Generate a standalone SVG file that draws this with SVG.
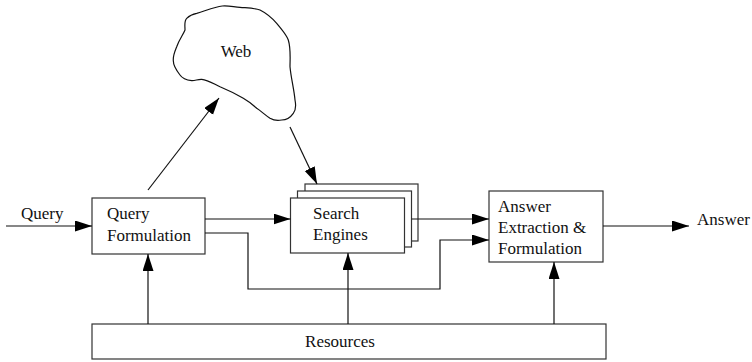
<svg xmlns="http://www.w3.org/2000/svg" width="752" height="362" viewBox="0 0 752 362">
  <style>
    .box { fill: #fff; stroke: #333; stroke-width: 1.2; }
    .line { fill: none; stroke: #111; stroke-width: 1.2; }
    text { font-family: 'Liberation Serif', 'Times New Roman', Times, serif; font-size: 17px; fill: #111; }
  </style>
  <defs>
    <marker id="arrow" markerUnits="userSpaceOnUse" markerWidth="18" markerHeight="12" refX="17" refY="5.5" orient="auto">
      <path d="M0,0 L17,5.5 L0,11 z" fill="#000"/>
    </marker>
  </defs>

  <rect x="0" y="0" width="752" height="362" fill="#fff"/>

  <!-- Web cloud -->
  <g id="web">
    <path class="line" d="M186.7,18.3 C190,15 193,14 196.7,13.3 C205,11 214,7 222.3,6 C229,5.5 234,7 240,7.3 C248,8 254,8 260,10 C266,13 272,18 276.7,23.3 C281,29 286,34 288.3,40 C291,49 290,58 290,66.7 C291,78 294,89 295,100 C296,105 296,110 293.3,113.3 C290,118 286,120 281.7,120 C277,121 273,120 270,118.3 C265,115 261,111 256.7,108.3 C252,104 248,101 243.3,98.3 C236,94 228,90 220,86.7 C214,84 208,80 201.7,79.3 C198,79 195,81 191.7,80.7 C186,80 182,78 180,75 C176,70 173,65 173.3,60 C173,55 175,51 176.7,46.7 C179,40 183,35 185,30 C185,25 184,21 186.7,18.3 Z"/>
    <text x="236" y="57" text-anchor="middle">Web</text>
  </g>

  <!-- Query Formulation -->
  <g id="query-formulation">
    <rect class="box" x="92" y="198" width="113" height="56"/>
    <text x="107" y="219">Query</text>
    <text x="107" y="241">Formulation</text>
  </g>

  <!-- Search Engines (stacked) -->
  <g id="search-engines">
    <rect class="box" x="305" y="184" width="113" height="57"/>
    <rect class="box" x="297.5" y="191" width="114" height="56"/>
    <rect class="box" x="290.5" y="198" width="114" height="55"/>
    <text x="313" y="219">Search</text>
    <text x="313" y="240">Engines</text>
  </g>

  <!-- Answer Extraction & Formulation -->
  <g id="answer-extraction">
    <rect class="box" x="489" y="191" width="114" height="71"/>
    <text x="498" y="212">Answer</text>
    <text x="498" y="233">Extraction &amp;</text>
    <text x="498" y="254">Formulation</text>
  </g>

  <!-- Resources -->
  <g id="resources">
    <rect class="box" x="92" y="324" width="514" height="35"/>
    <text x="340" y="347" text-anchor="middle">Resources</text>
  </g>

  <!-- External labels -->
  <g id="query-in">
    <text x="21" y="219">Query</text>
  </g>
  <g id="answer-out">
    <text x="697" y="225">Answer</text>
  </g>

  <!-- Connectors -->
  <g id="connectors">
    <line class="line" x1="6" y1="226" x2="92" y2="226" marker-end="url(#arrow)"/>
    <line class="line" x1="148" y1="190" x2="219" y2="98" marker-end="url(#arrow)"/>
    <line class="line" x1="290" y1="127" x2="317" y2="184" marker-end="url(#arrow)"/>
    <line class="line" x1="205" y1="219" x2="290.5" y2="219" marker-end="url(#arrow)"/>
    <line class="line" x1="411.5" y1="219" x2="489" y2="219" marker-end="url(#arrow)"/>
    <polyline class="line" points="205,233 248,233 248,289 440,289 440,240 489,240" marker-end="url(#arrow)"/>
    <line class="line" x1="603" y1="226" x2="689" y2="226" marker-end="url(#arrow)"/>
    <line class="line" x1="148" y1="324" x2="148" y2="254" marker-end="url(#arrow)"/>
    <line class="line" x1="348" y1="324" x2="348" y2="253" marker-end="url(#arrow)"/>
    <line class="line" x1="554" y1="324" x2="554" y2="262" marker-end="url(#arrow)"/>
  </g>
</svg>
